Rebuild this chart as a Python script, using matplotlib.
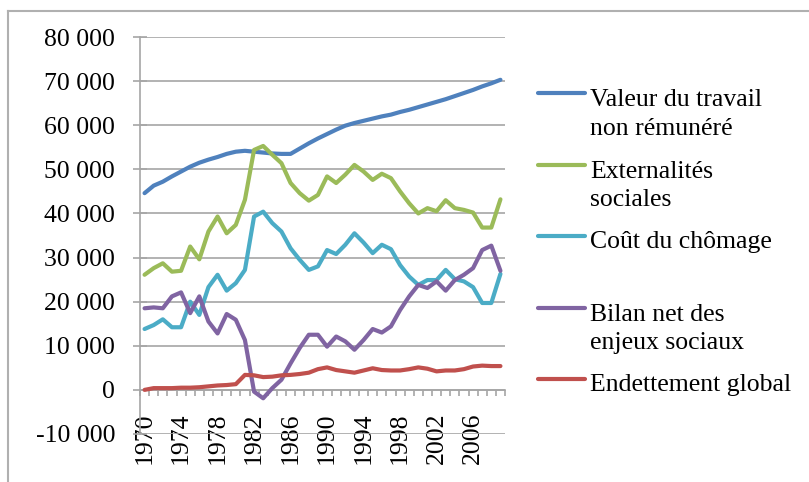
import matplotlib
matplotlib.use("Agg")
import matplotlib.pyplot as plt
from matplotlib.lines import Line2D
from matplotlib.ticker import FuncFormatter
import numpy as np

plt.rcParams['font.family'] = ['Liberation Serif', 'DejaVu Serif']

years = list(range(1970, 2010))

valeur = [44600, 46300, 47200, 48400, 49500, 50600, 51500, 52200, 52800, 53500,
          54000, 54200, 54000, 53800, 53600, 53500, 53500, 54700, 55900, 57000,
          58000, 59000, 59900, 60500, 61000, 61500, 62000, 62400, 63000, 63500,
          64100, 64700, 65300, 65900, 66600, 67300, 68000, 68800, 69500, 70300]
externalites = [26100, 27600, 28700, 26800, 27000, 32500, 29600, 35900, 39300, 35500,
                37400, 43100, 54400, 55300, 53300, 51400, 46900, 44600, 42900, 44200,
                48400, 46900, 48800, 51000, 49500, 47600, 49000, 48000, 45000, 42300,
                40000, 41200, 40500, 43000, 41200, 40800, 40200, 36800, 36800, 43200]
cout = [13800, 14700, 16000, 14200, 14200, 20000, 17000, 23300, 26100, 22500,
        24200, 27200, 39300, 40400, 37800, 35900, 32100, 29500, 27200, 28000,
        31700, 30800, 32900, 35500, 33400, 31000, 32900, 31900, 28300, 25700,
        23800, 24900, 24900, 27200, 25100, 24600, 23300, 19700, 19700, 26300]
bilan = [18500, 18700, 18500, 21200, 22100, 17400, 21200, 15500, 12800, 17200,
         15900, 11300, -400, -1900, 400, 2300, 6000, 9500, 12500, 12500,
         9800, 12100, 11000, 9100, 11300, 13800, 13000, 14400, 18100, 21200,
         23800, 23100, 24600, 22500, 24900, 26100, 27600, 31700, 32700, 27000]
endettement = [0, 400, 400, 400, 500, 500, 600, 800, 1000, 1100,
               1300, 3400, 3300, 2900, 3000, 3300, 3400, 3600, 3900, 4700,
               5100, 4500, 4200, 3900, 4400, 4900, 4500, 4400, 4400, 4700,
               5100, 4800, 4200, 4400, 4400, 4700, 5300, 5500, 5400, 5400]

labels = ["Valeur du travail\nnon rémunéré", "Externalités\nsociales",
          "Coût du chômage", "Bilan net des\nenjeux sociaux", "Endettement global"]
series = [valeur, externalites, cout, bilan, endettement]
colors = ["#4F81BD", "#9BBB59", "#4BACC6", "#8064A2", "#C0504D"]

W, H = 809, 482
fs = 18.5
fig = plt.figure(figsize=(W / 100, H / 100), dpi=100)
ax = fig.add_axes([140 / W, (H - 434) / H, 365 / W, 397 / H])

x = np.arange(len(years))
for vals, c in zip(series, colors):
    ax.plot(x, vals, color=c, lw=3, solid_capstyle='round', solid_joinstyle='round', zorder=3)

grid_c = "#a6a6a6"
ax.set_xlim(-0.5, len(years) - 0.5)
ax.set_ylim(-10000, 80000)
ax.set_yticks(range(-10000, 80001, 10000))
ax.yaxis.set_major_formatter(FuncFormatter(lambda v, p: f"{int(v):,}".replace(",", " ")))
ax.grid(axis='y', color=grid_c, lw=1.2, zorder=1)
ax.tick_params(axis='y', direction='inout', length=10, color=grid_c, width=1.2,
               labelsize=fs, pad=13)

ax.set_xticks(x[::4])
ax.set_xticklabels([str(y) for y in years[::4]])
ax.set_xticks(np.arange(-0.5, len(years), 1), minor=True)
ax.tick_params(axis='x', which='major', length=0, labelsize=fs, pad=16.5, labelrotation=90)
ax.tick_params(axis='x', which='minor', direction='out', length=4.5, color=grid_c, width=1.2)

for s in ['top', 'right']:
    ax.spines[s].set_visible(False)
ax.spines['bottom'].set_position(('data', 0))
ax.spines['bottom'].set_color(grid_c)
ax.spines['bottom'].set_linewidth(1.2)
ax.spines['left'].set_color(grid_c)
ax.spines['left'].set_linewidth(1.2)

# legend drawn Excel-style: handle aligned with first text line
leg_y0, leg_step, line_gap = 93, 71.5, 30
for i, (lab, c) in enumerate(zip(labels, colors)):
    yy = leg_y0 + i * leg_step
    fig.add_artist(Line2D([538 / W, 585 / W], [1 - yy / H, 1 - yy / H], color=c, lw=3,
                          solid_capstyle='round'))
    n_extra = lab.count("\n")
    fig.text(590 / W, 1 - (yy + 12 + n_extra * line_gap) / H, lab, fontsize=fs,
             va='baseline', ha='left', linespacing=1.4)

# outer frame
border_c = "#b0b0b0"
fig.add_artist(Line2D([8 / W, 8 / W], [0, 1 - 11 / H], color=border_c, lw=1.5))
fig.add_artist(Line2D([8 / W, 1], [1 - 11 / H, 1 - 11 / H], color=border_c, lw=1.5))

fig.savefig("out.png", dpi=100)
